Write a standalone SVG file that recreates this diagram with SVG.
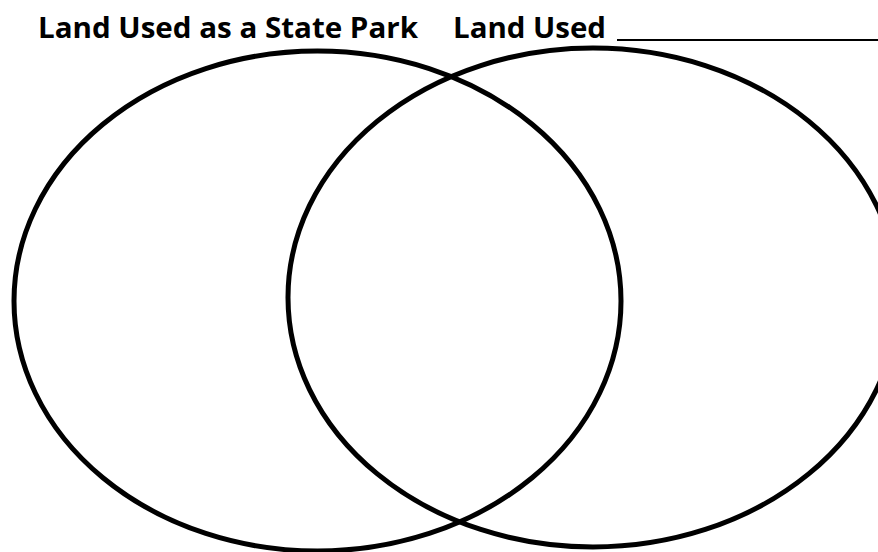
<svg xmlns="http://www.w3.org/2000/svg" width="878" height="552" viewBox="0 0 878 552">
<style>
.title{font-family:"Open Sans","Noto Sans","DejaVu Sans",sans-serif;font-weight:bold;font-size:28px;fill:#000}
.circle{fill:none;stroke:#000;stroke-width:5}
</style>
<rect width="878" height="552" fill="#fff"/>
<g id="labels">
<text id="label-left" class="title" x="38" y="38" textLength="380" lengthAdjust="spacingAndGlyphs">Land Used as a State Park</text>
<text id="label-right" class="title" x="453" y="38" textLength="153" lengthAdjust="spacingAndGlyphs">Land Used</text>
<line id="blank" x1="617" y1="40" x2="878" y2="40" stroke="#000" stroke-width="2"/>
</g>
<g id="set-left">
<ellipse class="circle" cx="317.5" cy="301" rx="303.5" ry="250"/>
</g>
<g id="set-right">
<ellipse class="circle" cx="593" cy="297.5" rx="305" ry="249.5"/>
</g>
<g id="connectors"></g>
</svg>
